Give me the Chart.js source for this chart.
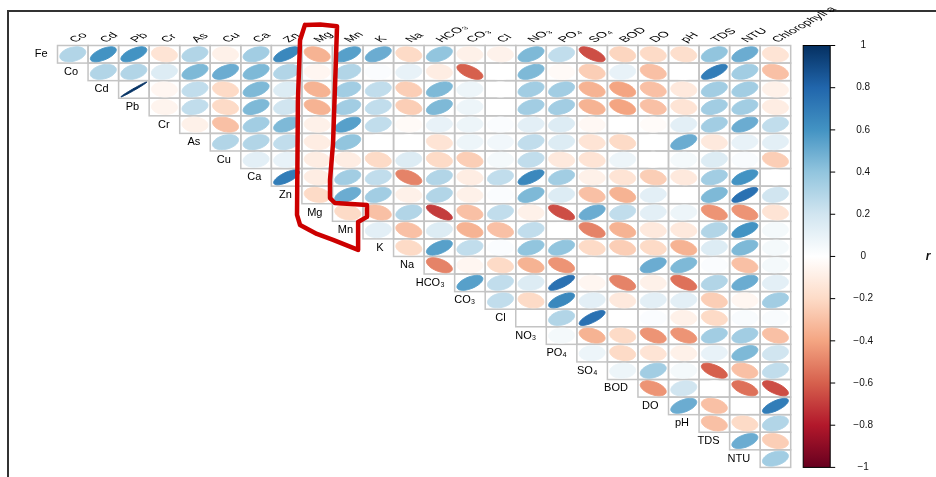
<!DOCTYPE html>
<html>
<head>
<meta charset="utf-8">
<script src="https://cdn.jsdelivr.net/npm/chart.js@4.4.1/dist/chart.umd.min.js"></script>
<style>
  html, body { margin: 0; padding: 0; background: #fff; }
</style>
</head>
<body>
<canvas id="corr" width="936" height="477"></canvas>
<script>
// variable names (columns on top, rows down the diagonal)
const colNames = ['Co', 'Cd', 'Pb', 'Cr', 'As', 'Cu', 'Ca', 'Zn', 'Mg', 'Mn', 'K', 'Na',
  'HCO₃', 'CO₃', 'Cl', 'NO₃', 'PO₄', 'SO₄', 'BOD', 'DO', 'pH', 'TDS', 'NTU', 'Chlorophyll a'];
const rowNames = ['Fe', 'Co', 'Cd', 'Pb', 'Cr', 'As', 'Cu', 'Ca', 'Zn', 'Mg', 'Mn', 'K',
  'Na', 'HCO₃', 'CO₃', 'Cl', 'NO₃', 'PO₄', 'SO₄', 'BOD', 'DO', 'pH', 'TDS', 'NTU'];

// correlation r per row, starting at the column right of the row's diagonal
const rFe = [0.3, 0.6, 0.6, -0.15, 0.3, -0.08, 0.35, 0.65, -0.35, 0.55, 0.5, -0.2, 0.4, -0.08, -0.07, 0.45, 0.25, -0.65, -0.22, -0.2, -0.18, 0.4, 0.5, -0.15];
const rCo = [0.3, 0.3, 0.15, 0.45, 0.5, 0.45, 0.3, -0.05, 0.3, 0.02, 0.1, -0.1, -0.6, 0.0, 0.45, -0.03, -0.25, 0.1, -0.3, 0.0, 0.7, 0.35, -0.3];
const rCd = [0.99, -0.05, 0.25, -0.2, 0.45, 0.15, -0.35, 0.35, 0.25, -0.25, 0.45, 0.08, 0.0, 0.35, 0.35, -0.35, -0.4, -0.3, -0.12, 0.35, 0.35, -0.08];
const rPb = [-0.06, 0.25, -0.2, 0.45, 0.2, -0.35, 0.35, 0.25, -0.25, 0.45, 0.08, 0.0, 0.35, 0.35, -0.35, -0.4, -0.3, -0.15, 0.35, 0.35, -0.1];
const rCr = [-0.08, -0.3, 0.35, 0.45, -0.08, 0.55, 0.25, -0.03, 0.1, 0.08, 0.02, 0.12, 0.15, -0.04, 0.0, -0.02, 0.12, 0.35, 0.5, 0.25];
const rAs = [0.3, 0.3, 0.25, -0.1, 0.4, 0.0, 0.0, -0.15, 0.08, 0.06, 0.25, 0.15, -0.15, -0.2, 0.0, 0.5, -0.12, 0.1, 0.12];
const rCu = [0.12, 0.1, -0.1, -0.1, -0.2, 0.15, -0.2, -0.25, 0.05, 0.25, -0.12, -0.15, 0.08, 0.0, 0.05, 0.15, 0.03, -0.25];
const rCa = [0.7, -0.1, 0.35, 0.25, -0.5, 0.3, -0.1, 0.25, 0.65, 0.35, -0.08, -0.15, -0.25, -0.12, 0.35, 0.6, 0.0];
const rZn = [-0.2, 0.5, 0.35, -0.08, 0.3, -0.08, 0.02, 0.45, 0.15, -0.3, -0.35, 0.12, 0.0, 0.45, 0.75, 0.2];
const rMg = [-0.2, -0.3, 0.3, -0.7, -0.3, 0.25, -0.08, -0.65, 0.5, 0.25, 0.12, 0.08, -0.45, -0.45, -0.15];
const rMn = [0.12, -0.3, 0.15, -0.35, -0.3, 0.25, 0.0, -0.5, -0.35, -0.12, -0.12, 0.3, 0.6, 0.05];
const rK = [-0.2, 0.55, 0.25, 0.02, 0.4, 0.4, -0.2, -0.25, -0.2, -0.35, 0.15, 0.45, 0.05];
const rNa = [-0.5, -0.05, -0.2, -0.35, -0.45, 0.0, 0.0, 0.5, 0.45, 0.02, -0.3, 0.05];
const rHCO3 = [0.55, 0.25, 0.15, 0.75, -0.05, -0.5, -0.08, -0.55, 0.3, 0.5, 0.12];
const rCO3 = [0.25, -0.2, 0.65, 0.12, -0.12, 0.12, 0.12, -0.25, -0.05, 0.35];
const rCl = [0.0, 0.3, 0.75, 0.0, 0.02, -0.08, -0.2, 0.03, 0.03];
const rNO3 = [0.05, -0.35, -0.2, -0.45, -0.45, 0.35, 0.35, -0.3];
const rPO4 = [0.08, -0.2, -0.15, -0.08, 0.1, 0.45, 0.2];
const rSO4 = [0.08, 0.35, 0.05, -0.6, -0.3, 0.25];
const rBOD = [-0.45, 0.2, 0.0, -0.55, -0.65];
const rDO = [0.5, -0.3, 0.0, 0.7];
const rPH = [-0.3, -0.2, 0.3];
const rTDS = [0.5, -0.25];
const rNTU = [0.35];

const rowValues = [rFe, rCo, rCd, rPb, rCr, rAs, rCu, rCa, rZn, rMg, rMn, rK,
  rNa, rHCO3, rCO3, rCl, rNO3, rPO4, rSO4, rBOD, rDO, rPH, rTDS, rNTU];

// colour bar ticks
const barTicks = [1, 0.8, 0.6, 0.4, 0.2, 0, -0.2, -0.4, -0.6, -0.8, -1];

// RdBu palette, from r = -1 to r = 1
const rdbu = ['#67001F', '#B2182B', '#D6604D', '#F4A582', '#FDDBC7', '#FFFFFF',
  '#D1E5F0', '#92C5DE', '#4393C3', '#2166AC', '#053061'];

// hand-drawn highlight around the Mg column, in cell units (column, row)
const outlineCol = [7.6, 8.1, 8.65, 8.6, 8.52, 8.42, 8.42, 8.58, 9.63, 9.63, 9.34, 9.34, 8.52, 7.99, 7.44, 7.34, 7.37, 7.44, 7.6];
const outlineRow = [-1.67, -1.7, -1.6, 1.0, 5.05, 7.15, 8.18, 8.46, 8.57, 9.25, 9.54, 11.13, 10.56, 10.22, 9.71, 9.14, 2.6, -0.81, -1.67];

const points = [];
rowValues.forEach((vals, i) => {
  vals.forEach((v, k) => points.push({ x: i + k, y: i, v: v }));
});

function hexRgb(h) {
  return [parseInt(h.slice(1, 3), 16), parseInt(h.slice(3, 5), 16), parseInt(h.slice(5, 7), 16)];
}

function colorFor(v) {
  const t = (v + 1) / 2 * (rdbu.length - 1);
  const i = Math.min(Math.floor(t), rdbu.length - 2);
  const f = t - i;
  const a = hexRgb(rdbu[i]), b = hexRgb(rdbu[i + 1]);
  const c = a.map((n, j) => Math.round(n + (b[j] - n) * f));
  return `rgb(${c[0]},${c[1]},${c[2]})`;
}

const FONT = '"Liberation Sans", Arial, sans-serif';

const corrPlugin = {
  id: 'corrPlot',
  beforeDatasetsDraw(chart) {
    const ctx = chart.ctx;
    const xs = chart.scales.x, ys = chart.scales.y;
    const cw = xs.getPixelForValue(1) - xs.getPixelForValue(0);
    const ch = ys.getPixelForValue(1) - ys.getPixelForValue(0);
    ctx.save();
    ctx.strokeStyle = '#c4c4c4';
    ctx.lineWidth = 1.5;
    chart.getDatasetMeta(0).data.forEach(pt => {
      ctx.strokeRect(pt.x - cw / 2, pt.y - ch / 2, cw, ch);
    });
    ctx.restore();
  },
  afterDatasetsDraw(chart) {
    const ctx = chart.ctx;
    const xs = chart.scales.x, ys = chart.scales.y;
    const cw = xs.getPixelForValue(1) - xs.getPixelForValue(0);
    const ch = ys.getPixelForValue(1) - ys.getPixelForValue(0);
    const meta = chart.getDatasetMeta(0);
    ctx.save();
    meta.data.forEach((pt, idx) => {
      const v = points[idx].v;
      const a = Math.acos(v) / 2;
      const col = colorFor(v);
      ctx.beginPath();
      for (let k = 0; k <= 72; k++) {
        const t = k / 72 * Math.PI * 2;
        const ex = Math.cos(t + a) / 2 * 0.85 * cw;
        const ey = Math.cos(t - a) / 2 * 0.85 * ch;
        if (k === 0) ctx.moveTo(pt.x + ex, pt.y - ey);
        else ctx.lineTo(pt.x + ex, pt.y - ey);
      }
      ctx.closePath();
      ctx.fillStyle = col;
      ctx.strokeStyle = col;
      ctx.lineWidth = 1;
      ctx.fill();
      ctx.stroke();
    });
    ctx.restore();
  },
  afterDraw(chart) {
    const ctx = chart.ctx;
    const area = chart.chartArea;
    const xs = chart.scales.x, ys = chart.scales.y, cs = chart.scales.c;

    ctx.save();
    // frame lines
    ctx.strokeStyle = '#333';
    ctx.lineWidth = 2;
    ctx.beginPath();
    ctx.moveTo(8, chart.height);
    ctx.lineTo(8, 11);
    ctx.lineTo(chart.width, 11);
    ctx.stroke();

    // row labels
    ctx.fillStyle = '#000';
    ctx.font = '11px ' + FONT;
    ctx.textAlign = 'right';
    ctx.textBaseline = 'middle';
    rowNames.forEach((name, i) => {
      ctx.fillText(name, xs.getPixelForValue(i - 0.5) - 10, ys.getPixelForValue(i));
    });

    // column labels, 45 degrees squeezed to the cell aspect
    ctx.textAlign = 'left';
    ctx.font = '13px ' + FONT;
    colNames.forEach((name, j) => {
      ctx.save();
      ctx.translate(xs.getPixelForValue(j) - 3, area.top - 3);
      ctx.scale(1.1, 0.62);
      ctx.rotate(-Math.PI / 4);
      ctx.fillText(name, 3, 0);
      ctx.restore();
    });

    // colour bar
    const barL = area.right + 12.5, barW = 27;
    const top = cs.getPixelForValue(1), bot = cs.getPixelForValue(-1);
    const grad = ctx.createLinearGradient(0, bot, 0, top);
    rdbu.forEach((c, i) => grad.addColorStop(i / (rdbu.length - 1), c));
    ctx.fillStyle = grad;
    ctx.fillRect(barL, top, barW, bot - top);
    ctx.strokeStyle = '#000';
    ctx.lineWidth = 1;
    ctx.strokeRect(barL, top, barW, bot - top);
    ctx.font = '10px ' + FONT;
    ctx.fillStyle = '#111';
    ctx.textAlign = 'center';
    barTicks.forEach(t => {
      const y = cs.getPixelForValue(t);
      ctx.beginPath();
      ctx.moveTo(barL + barW, y);
      ctx.lineTo(barL + barW + 5, y);
      ctx.stroke();
      const lab = t === 0 ? '0' : (t < 0 ? '−' : '') + String(Math.abs(t));
      ctx.fillText(lab, barL + barW + 33, y);
    });
    ctx.font = 'italic bold 12px ' + FONT;
    ctx.fillText('r', chart.width - 8, cs.getPixelForValue(0));

    // red highlight
    ctx.strokeStyle = '#cc0000';
    ctx.lineWidth = 4.5;
    ctx.lineJoin = 'round';
    ctx.lineCap = 'round';
    ctx.beginPath();
    outlineCol.forEach((c, i) => {
      const px = xs.getPixelForValue(c), py = ys.getPixelForValue(outlineRow[i]);
      if (i === 0) ctx.moveTo(px, py); else ctx.lineTo(px, py);
    });
    ctx.stroke();
    ctx.restore();
  }
};

new Chart(document.getElementById('corr'), {
  type: 'scatter',
  data: {
    datasets: [{
      data: points,
      pointRadius: 0,
      pointHoverRadius: 0
    }]
  },
  options: {
    responsive: false,
    animation: false,
    events: [],
    layout: { padding: { left: 57.5, top: 45.5, right: 145.3, bottom: 9.6 } },
    plugins: { legend: { display: false }, tooltip: { enabled: false } },
    scales: {
      x: { type: 'linear', min: -0.5, max: 23.5, display: false },
      y: { type: 'linear', min: -0.5, max: 23.5, reverse: true, display: false },
      c: { type: 'linear', axis: 'y', position: 'right', min: -1, max: 1, display: false }
    }
  },
  plugins: [corrPlugin]
});
</script>
</body>
</html>
